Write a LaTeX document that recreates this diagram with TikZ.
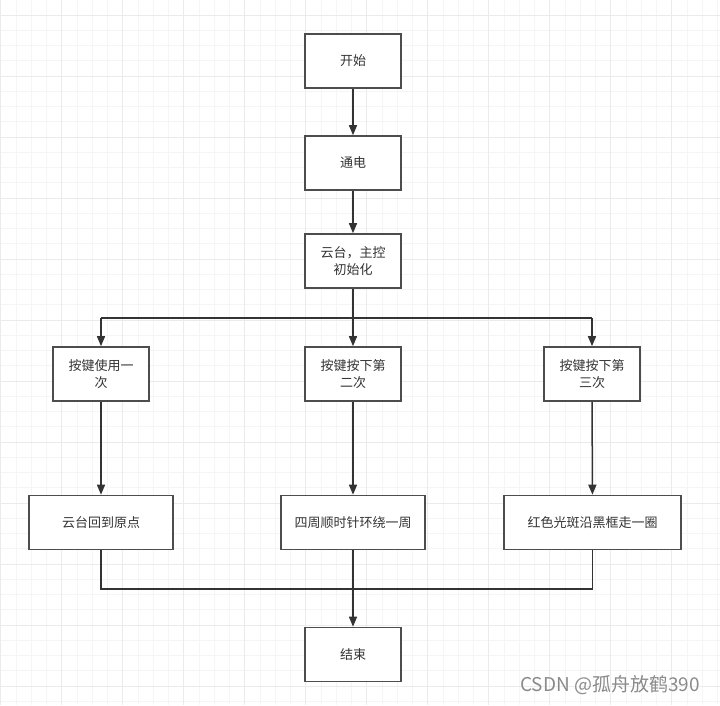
\documentclass[tikz,border=0pt]{standalone}
\usepackage{fontspec}
\newfontfamily\cjk{Noto Sans CJK SC}
\usetikzlibrary{arrows.meta}
\definecolor{boxc}{HTML}{4D4D4D}
\definecolor{linec}{HTML}{333333}
\definecolor{textc}{HTML}{333333}
\definecolor{gminor}{HTML}{F5F5F5}
\definecolor{gmajor}{HTML}{EBEBEB}
\definecolor{wm}{HTML}{8A8A8A}
\tikzset{
  box/.style={draw=boxc, line width=1.6pt, fill=white, minimum width=96pt, minimum height=54pt,
    inner sep=2pt, text=textc, font=\cjk\fontsize{13}{17}\selectfont, align=center},
  wide/.style={box, minimum width=144pt},
  wider/.style={box, minimum width=177pt},
  arr/.style={draw=linec, line width=1.5pt, -{Triangle[length=10pt,width=8pt]}},
  ln/.style={draw=linec, line width=1.5pt},
}
\begin{document}
\begin{tikzpicture}[x=1pt,y=-1pt]
\useasboundingbox (0,0) rectangle (720,705);
\fill[white] (0,0) rectangle (720,705);
% grid
\foreach \i in {0,...,47}{
  \draw[gminor, line width=1pt] ({0.8+15.25*\i},0) -- ({0.8+15.25*\i},705);
}
\foreach \i in {0,...,46}{
  \draw[gminor, line width=1pt] (0,{-0.25+15.25*\i}) -- (720,{-0.25+15.25*\i});
}
\foreach \i in {0,...,11}{
  \draw[gmajor, line width=1pt] ({0.8+61*\i},0) -- ({0.8+61*\i},705);
}
\foreach \i in {0,...,11}{
  \draw[gmajor, line width=1pt] (0,{15+61*\i}) -- (720,{15+61*\i});
}
% nodes
\node[box] (start) at (353,61) {开始};
\node[box] (power) at (353,163) {通电};
\node[box] (init) at (353,261) {云台，主控\\初始化};
\node[box] (k1) at (101,374) {按键使用一\\次};
\node[box] (k2) at (353,374) {按键按下第\\二次};
\node[box] (k3) at (592,374) {按键按下第\\三次};
\node[wide] (a1) at (101,522.5) {云台回到原点};
\node[wide] (a2) at (353,522.5) {四周顺时针环绕一周};
\node[wider] (a3) at (592.5,522.5) {红色光斑沿黑框走一圈};
\node[box] (end) at (353,654.5) {结束};
\coordinate (split) at (353,318);
\coordinate (sl) at (101,318);
\coordinate (sr) at (592,318);
\coordinate (merge) at (353,589);
\coordinate (ml) at (101,589);
\coordinate (mr) at (592.5,589);
% connectors
\draw[arr] (start) -- (power);
\draw[arr] (power) -- (init);
\draw[arr] (init) -- (k2);
\draw[ln] (sl) -- (sr);
\draw[arr] (sl) -- (k1);
\draw[arr] (sr) -- (k3);
\draw[arr] (k1) -- (a1);
\draw[arr] (k2) -- (a2);
\draw[arr] (k3) -- (a3);
\draw[ln] (a1.south) -- (ml) -- (mr) -- (a3.south);
\draw[arr] (a2) -- (end);
% watermark
\node[anchor=center, text=white, font=\cjk\fontsize{19}{21}\selectfont] (wmsh) at (611,686) {CSDN @孤舟放鹤390};
\node[anchor=center, text=wm, font=\cjk\fontsize{19}{21}\selectfont] (wmk) at (610,685) {CSDN @孤舟放鹤390};
\end{tikzpicture}
\end{document}
